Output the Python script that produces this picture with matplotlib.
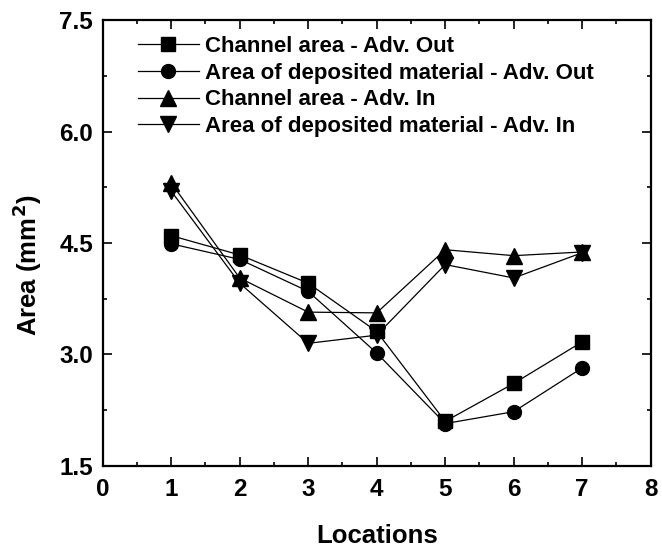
import matplotlib
matplotlib.use("Agg")
import matplotlib.pyplot as plt
from matplotlib.ticker import MultipleLocator

plt.rcParams["font.family"] = ["Liberation Sans", "DejaVu Sans"]
plt.rcParams["font.weight"] = "bold"
plt.rcParams["mathtext.default"] = "bf"

locations = [1, 2, 3, 4, 5, 6, 7]
channel_out = [4.60, 4.34, 3.96, 3.31, 2.10, 2.61, 3.17]
deposit_out = [4.49, 4.28, 3.85, 3.02, 2.07, 2.23, 2.82]
channel_in = [5.31, 4.03, 3.57, 3.56, 4.41, 4.33, 4.38]
deposit_in = [5.20, 3.96, 3.15, 3.26, 4.21, 4.03, 4.37]
labels = [
    "Channel area - Adv. Out",
    "Area of deposited material - Adv. Out",
    "Channel area - Adv. In",
    "Area of deposited material - Adv. In",
]

# marker shape / size per series
markers = ["s", "o", "^", "v"]
msizes = [9.5, 10, 11, 11]

fig = plt.figure(figsize=(6.62, 5.6), dpi=100)
ax = fig.add_axes([0.155, 0.168, 0.828, 0.796])

for vals, mk, ms, lab in zip([channel_out, deposit_out, channel_in, deposit_in],
                             markers, msizes, labels):
    ax.plot(locations, vals, color="black", linewidth=0.9, marker=mk,
            markersize=ms, label=lab)

ax.set_xlim(0, 8)
ax.set_ylim(1.5, 7.5)
ax.xaxis.set_major_locator(MultipleLocator(1))
ax.xaxis.set_minor_locator(MultipleLocator(0.5))
ax.yaxis.set_major_locator(MultipleLocator(1.5))
ax.yaxis.set_minor_locator(MultipleLocator(0.75))
ax.tick_params(which="both", direction="in", top=True, right=True,
               labelsize=17.5, width=1.2)
ax.tick_params(which="major", length=6.3)
ax.tick_params(which="minor", length=3.1)
ax.tick_params(axis="x", pad=9)
ax.tick_params(axis="y", pad=7)
for s in ax.spines.values():
    s.set_linewidth(1.6)

ax.set_xlabel("Locations", fontsize=18.5, fontweight="bold", labelpad=16)
ax.set_ylabel("Area (mm$^2$)", fontsize=18.5, fontweight="bold")
ax.yaxis.set_label_coords(-0.107, 0.45)

ax.legend(loc="upper left", frameon=False, fontsize=16, handlelength=2.75,
          handletextpad=0.27, labelspacing=0.25, borderaxespad=0,
          bbox_to_anchor=(0.048, 0.984))

fig.savefig("out.png", dpi=100)
